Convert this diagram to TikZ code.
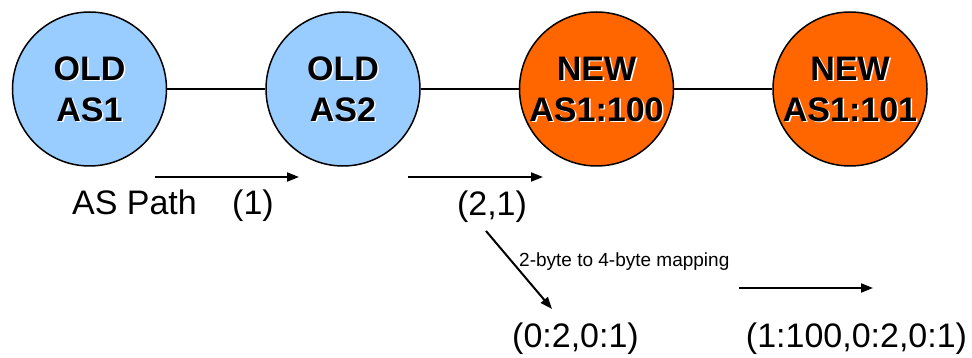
\documentclass[tikz,border=0pt]{standalone}
\usepackage{fontspec}
\setmainfont{Liberation Sans}
\usetikzlibrary{arrows.meta}
\definecolor{oldblue}{HTML}{99CCFF}
\definecolor{neworange}{HTML}{FF6600}
\tikzset{
  circ/.style={circle, draw=black, line width=1.5pt, minimum size=154pt, inner sep=0pt},
  ctext/.style={align=center, inner sep=0pt, font=\bfseries\fontsize{34}{41}\selectfont},
  ctextshadow/.style={ctext, text=white},
  big/.style={inner sep=0pt, anchor=base, font=\fontsize{34}{41}\selectfont},
  small/.style={inner sep=0pt, anchor=base west, font=\fontsize{19}{23}\selectfont},
  link/.style={line width=1.5pt},
  arr/.style={line width=2pt, -{Triangle[length=12pt,width=9pt]}},
}
\begin{document}
\begin{tikzpicture}[x=1pt,y=-1pt]
\useasboundingbox[fill=white] (0,0) rectangle (972,358);
% circles
\node[circ, fill=oldblue] (o1) at (89.5,89) {};
\node[circ, fill=oldblue] (o2) at (343,89) {};
\node[circ, fill=neworange] (n1) at (596.5,89) {};
\node[circ, fill=neworange] (n2) at (850,89) {};
% links
\draw[link] (o1) -- (o2);
\draw[link] (o2) -- (n1);
\draw[link] (n1) -- (n2);
% circle texts with shadow
\node[ctextshadow] (s1) at ([shift={(1.5,1.5)}]o1.center) {OLD\\AS1};
\node[ctext] (t1) at (o1.center) {OLD\\AS1};
\node[ctextshadow] (s2) at ([shift={(1.5,1.5)}]o2.center) {OLD\\AS2};
\node[ctext] (t2) at (o2.center) {OLD\\AS2};
\node[ctextshadow] (s3) at ([shift={(1.5,1.5)}]n1.center) {NEW\\AS1:100};
\node[ctext] (t3) at (n1.center) {NEW\\AS1:100};
\node[ctextshadow] (s4) at ([shift={(1.5,1.5)}]n2.center) {NEW\\AS1:101};
\node[ctext] (t4) at (n2.center) {NEW\\AS1:101};
% labels
\node[big] (aspath) at (134.5,215) {AS Path};
\node[big] (p1) at (253,215) {(1)};
\node[big] (p21) at (492,216) {(2,1)};
\node[big] (p0201) at (575.5,347) {(0:2,0:1)};
\node[big] (p1100) at (856.5,347) {(1:100,0:2,0:1)};
\node[small] (map) at (519,266) {2-byte to 4-byte mapping};
% arrows
\coordinate (a1s) at (155,177);
\coordinate (a1e) at (299,177);
\coordinate (a2s) at (408,177);
\coordinate (a2e) at (543,177);
\coordinate (a3s) at (486,231);
\coordinate (a3e) at (552,309);
\coordinate (a4s) at (739,288);
\coordinate (a4e) at (873,288);
\draw[arr] (a1s) -- (a1e);
\draw[arr] (a2s) -- (a2e);
\draw[arr] (a3s) -- (a3e);
\draw[arr] (a4s) -- (a4e);
\end{tikzpicture}
\end{document}
